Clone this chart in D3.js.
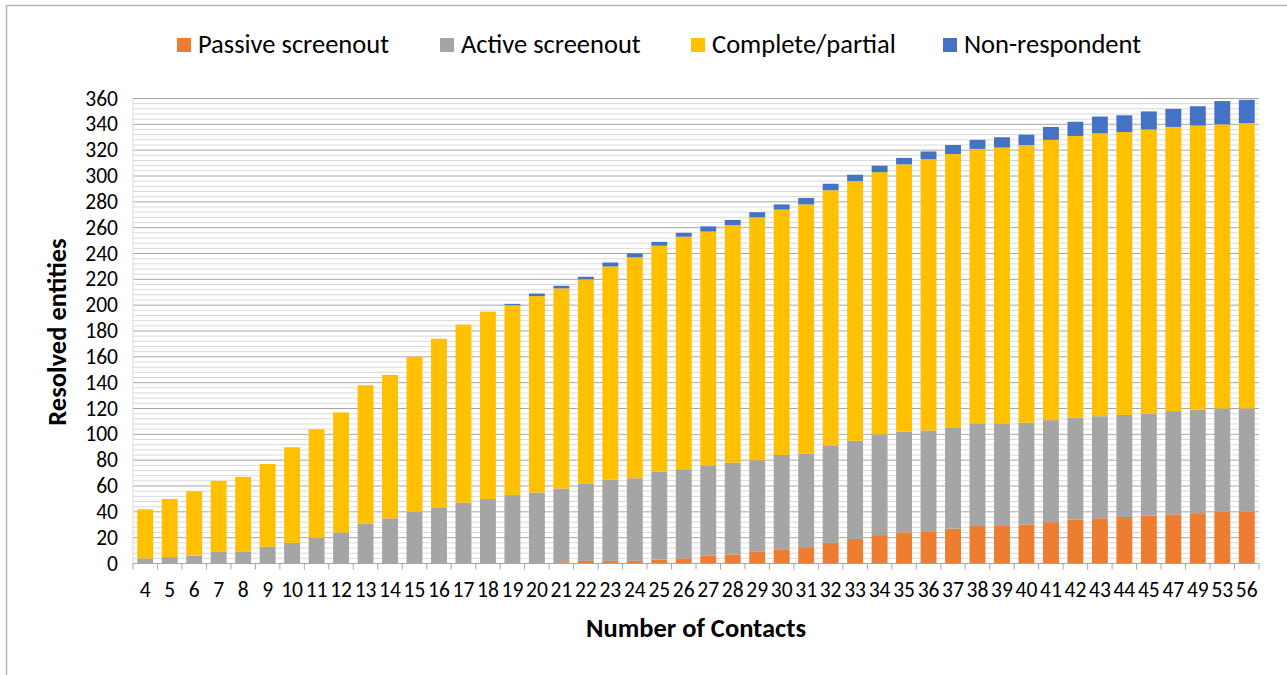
<!DOCTYPE html>
<html>
<head>
<meta charset="utf-8">
<script src="https://cdn.jsdelivr.net/npm/d3@7"></script>
<style>
  body { margin: 0; background: #fff; }
  svg { font-family: Carlito, Calibri, "Open Sans", sans-serif; }
</style>
</head>
<body>
<svg id="chart" width="1287" height="675"></svg>
<script>
'use strict'

// number of contacts
var contacts = [4,5,6,7,8,9,10,11,12,13,14,15,16,17,18,19,20,21,22,23,24,25,26,27,28,29,30,31,32,33,34,35,36,37,38,39,40,41,42,43,44,45,47,49,53,56];

var passive = [0,0,0,0,0,0,0,0,0,0,0,0,0,0,0,0,0,1,2,2,2,3,4,6,7,9,11,12,16,19,22,24,25,27,29,29,30,32,34,35,36,37,38,39,40,40];
var active = [4,5,6,9,9,13,16,20,24,31,35,40,43,47,50,53,55,57,60,63,64,68,69,70,71,71,73,73,75,76,78,78,78,78,79,79,79,79,79,79,79,79,80,80,80,80];
var complete = [38,45,50,55,58,64,74,84,93,107,111,120,131,138,145,147,152,155,158,165,171,175,180,181,184,188,190,193,198,201,203,207,210,212,213,214,215,217,218,219,219,220,220,220,220,221];
var nonresp = [0,0,0,0,0,0,0,0,0,0,0,0,0,0,0,1,2,2,2,3,3,3,3,4,4,4,4,5,5,5,5,5,6,7,7,8,8,10,11,13,13,14,14,15,18,18];

var seriesNames = ["Passive screenout", "Active screenout", "Complete/partial", "Non-respondent"];
var seriesColors = ["#ED7D31", "#A5A5A5", "#FFC000", "#4472C4"];
var yTicks = d3.range(0, 361, 20);

var svg = d3.select("#chart");
var margin = {left: 133, right: 1259, top: 98.5, bottom: 563.5};

// outer frame
svg.append("path")
    .attr("d", "M6.5,675 V5.5 H1290")
    .attr("fill", "none")
    .attr("stroke", "#b3b3b3")
    .attr("stroke-width", 1.5);

var x = d3.scaleBand()
    .domain(contacts)
    .range([margin.left, margin.right])
    .paddingInner(0.35)
    .paddingOuter(0.175);

var y = d3.scaleLinear()
    .domain([0, 360])
    .range([margin.bottom, margin.top]);

// minor + major gridlines
var grid = svg.append("g");
grid.selectAll("line.minor")
    .data(d3.range(0, 361, 4).filter(function(d) { return d % 20 !== 0; }))
    .enter().append("line")
      .attr("x1", margin.left).attr("x2", margin.right)
      .attr("y1", function(d) { return y(d); })
      .attr("y2", function(d) { return y(d); })
      .attr("stroke", "#d9d9d9")
      .attr("stroke-width", 1);
grid.selectAll("line.major")
    .data(yTicks)
    .enter().append("line")
      .attr("x1", margin.left).attr("x2", margin.right)
      .attr("y1", function(d) { return y(d); })
      .attr("y2", function(d) { return y(d); })
      .attr("stroke", "#a6a6a6")
      .attr("stroke-width", 1);

// left axis line
svg.append("line")
    .attr("x1", margin.left).attr("x2", margin.left)
    .attr("y1", margin.top).attr("y2", margin.bottom)
    .attr("stroke", "#d9d9d9");

// stacked bars
var rows = contacts.map(function(c, i) {
  return {c: c, s0: passive[i], s1: active[i], s2: complete[i], s3: nonresp[i]};
});
var stack = d3.stack().keys(["s0", "s1", "s2", "s3"]);
var layers = stack(rows);

svg.append("g").selectAll("g")
  .data(layers)
  .enter().append("g")
    .attr("fill", function(d, i) { return seriesColors[i]; })
  .selectAll("rect")
  .data(function(d) { return d.filter(function(p) { return p[1] > p[0]; }); })
  .enter().append("rect")
    .attr("x", function(d) { return x(d.data.c); })
    .attr("width", x.bandwidth())
    .attr("y", function(d) { return y(d[1]); })
    .attr("height", function(d) { return y(d[0]) - y(d[1]); });

// x axis
var step = x.step();
var xAxis = svg.append("g");
xAxis.append("line")
    .attr("x1", margin.left).attr("x2", margin.right)
    .attr("y1", margin.bottom).attr("y2", margin.bottom)
    .attr("stroke", "#a6a6a6");
xAxis.selectAll("line.tick")
    .data(d3.range(contacts.length + 1))
    .enter().append("line")
      .attr("x1", function(d) { return margin.left + d * step; })
      .attr("x2", function(d) { return margin.left + d * step; })
      .attr("y1", margin.bottom).attr("y2", margin.bottom + 6)
      .attr("stroke", "#a6a6a6");
xAxis.selectAll("text")
    .data(contacts)
    .enter().append("text")
      .attr("x", function(d) { return x(d) + x.bandwidth() / 2; })
      .attr("y", 597)
      .attr("text-anchor", "middle")
      .attr("font-size", 21.5)
      .attr("fill", "#000")
      .text(function(d) { return d; });

// y tick labels
svg.append("g").selectAll("text")
    .data(yTicks)
    .enter().append("text")
      .attr("x", 118)
      .attr("y", function(d) { return y(d) + 7; })
      .attr("text-anchor", "end")
      .attr("font-size", 21.5)
      .attr("fill", "#000")
      .text(function(d) { return d; });

// axis titles
svg.append("text")
    .attr("x", (margin.left + margin.right) / 2)
    .attr("y", 637)
    .attr("text-anchor", "middle")
    .attr("font-size", 26.5)
    .attr("font-weight", "bold")
    .text("Number of Contacts");

svg.append("text")
    .attr("transform", "translate(66,332) rotate(-90)")
    .attr("text-anchor", "middle")
    .attr("font-size", 26.5)
    .attr("font-weight", "bold")
    .text("Resolved entities");

// legend
var legendX = [177, 440, 691, 943];
var legend = svg.append("g").selectAll("g")
    .data(seriesNames)
    .enter().append("g")
      .attr("transform", function(d, i) { return "translate(" + legendX[i] + ",0)"; });
legend.append("rect")
    .attr("x", 0).attr("y", 38)
    .attr("width", 14).attr("height", 14)
    .attr("fill", function(d, i) { return seriesColors[i]; });
legend.append("text")
    .attr("x", 21).attr("y", 53)
    .attr("font-size", 26.5)
    .attr("fill", "#000")
    .text(function(d) { return d; });
</script>
</body>
</html>
